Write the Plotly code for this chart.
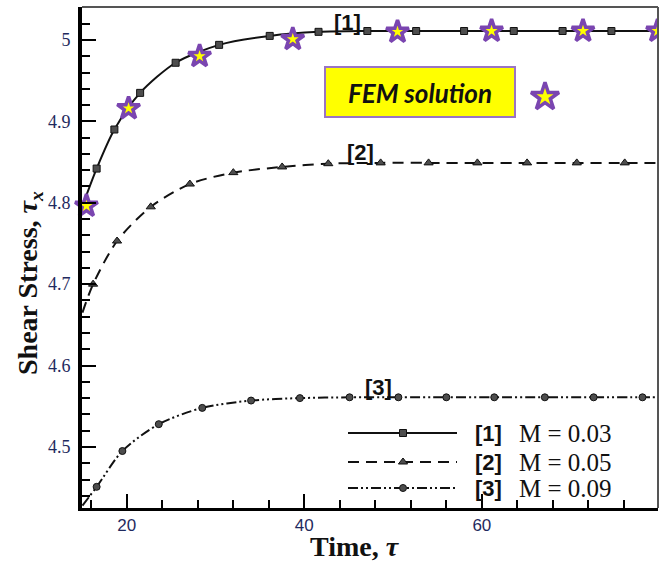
import plotly.graph_objects as go

# ---- data -------------------------------------------------------------
# [1] M = 0.03 (squares)
t_1 = [15.0, 16.6, 18.6, 21.5, 25.5, 30.4, 36.1, 41.6, 47.1, 52.6, 58.0, 63.6, 69.1, 74.6]
tau_1 = [4.796, 4.842, 4.890, 4.935, 4.972, 4.994, 5.005, 5.010, 5.011, 5.011, 5.011, 5.011, 5.011, 5.011]
t_1_end, tau_1_end = 79.85, 5.011

# [2] M = 0.05 (triangles)
t_2 = [16.2, 18.9, 22.7, 27.1, 32.0, 37.5, 42.7, 48.6, 54.0, 59.5, 65.1, 70.7, 76.1]
tau_2 = [4.700, 4.753, 4.795, 4.823, 4.837, 4.844, 4.848, 4.849, 4.849, 4.849, 4.849, 4.849, 4.849]
t_2_start, tau_2_start = 15.0, 4.665
t_2_end, tau_2_end = 79.85, 4.849

# [3] M = 0.09 (circles)
t_3 = [16.6, 19.5, 23.6, 28.5, 34.0, 39.5, 45.1, 50.6, 56.0, 61.4, 67.1, 72.6, 78.1]
tau_3 = [4.451, 4.495, 4.528, 4.548, 4.557, 4.560, 4.561, 4.561, 4.561, 4.561, 4.561, 4.561, 4.561]
t_3_start, tau_3_start = 15.0, 4.428
t_3_end, tau_3_end = 79.85, 4.561

# FEM solution
t_fem = [15.45, 20.2, 28.2, 38.7, 50.5, 61.1, 71.4, 79.8]
tau_fem = [4.796, 4.916, 4.980, 5.001, 5.010, 5.011, 5.011, 5.011]

curve_labels = ["[1]", "[2]", "[3]"]
m_values = ["M = 0.03", "M = 0.05", "M = 0.09"]

# ---- styles -----------------------------------------------------------
INK = "#111111"
MARK_FILL = "#4d4d4d"
TICK_COLOR = "#1f2a5e"
STAR_FILL = "#ffff00"
STAR_EDGE = "#7a45b0"
DASH_2 = "11px,7px"
DASH_3 = "10px,3px,2px,3px,2px,3px"

fig = go.Figure()

# curves
fig.add_trace(go.Scatter(
    x=t_1 + [t_1_end], y=tau_1 + [tau_1_end], mode="lines",
    line=dict(color=INK, width=2, shape="spline", smoothing=0.8),
    showlegend=False, hoverinfo="skip"))
fig.add_trace(go.Scatter(
    x=t_1, y=tau_1, mode="markers",
    marker=dict(symbol="square", size=7, color=MARK_FILL, line=dict(color=INK, width=1)),
    showlegend=False))

fig.add_trace(go.Scatter(
    x=[t_2_start] + t_2 + [t_2_end], y=[tau_2_start] + tau_2 + [tau_2_end], mode="lines",
    line=dict(color=INK, width=2, dash=DASH_2, shape="spline", smoothing=0.8),
    showlegend=False, hoverinfo="skip"))
fig.add_trace(go.Scatter(
    x=t_2, y=tau_2, mode="markers",
    marker=dict(symbol="triangle-up", size=8, color=MARK_FILL, line=dict(color=INK, width=1)),
    showlegend=False))

fig.add_trace(go.Scatter(
    x=[t_3_start] + t_3 + [t_3_end], y=[tau_3_start] + tau_3 + [tau_3_end], mode="lines",
    line=dict(color=INK, width=2, dash=DASH_3, shape="spline", smoothing=0.8),
    showlegend=False, hoverinfo="skip"))
fig.add_trace(go.Scatter(
    x=t_3, y=tau_3, mode="markers",
    marker=dict(symbol="circle", size=7, color=MARK_FILL, line=dict(color=INK, width=1)),
    showlegend=False))

# FEM points
fig.add_trace(go.Scatter(
    x=t_fem, y=tau_fem, mode="markers", cliponaxis=False,
    marker=dict(symbol="star", size=17, color=STAR_FILL, line=dict(color=STAR_EDGE, width=3.5)),
    showlegend=False))

# ---- key (drawn on a pixel-scaled overlay axis) -----------------------
PX_L, PX_R, PX_B, PX_T = 82, 658, 508, 7
key_rows = [433, 462, 488]
key_styles = [
    (None, "square", 7),
    (DASH_2, "triangle-up", 8),
    (DASH_3, "circle", 7),
]
for row, (dash, sym, size) in zip(key_rows, key_styles):
    fig.add_trace(go.Scatter(
        x=[348, 457], y=[row, row], xaxis="x2", yaxis="y2", mode="lines",
        line=dict(color=INK, width=2, dash=dash), showlegend=False, hoverinfo="skip"))
    fig.add_trace(go.Scatter(
        x=[403], y=[row], xaxis="x2", yaxis="y2", mode="markers",
        marker=dict(symbol=sym, size=size, color=MARK_FILL, line=dict(color=INK, width=1)),
        showlegend=False, hoverinfo="skip"))

fig.add_trace(go.Scatter(
    x=[545], y=[97], xaxis="x2", yaxis="y2", mode="markers",
    marker=dict(symbol="star", size=21, color=STAR_FILL, line=dict(color=STAR_EDGE, width=3.5)),
    showlegend=False, hoverinfo="skip"))

annotations = []
for row, lab, mv in zip(key_rows, curve_labels, m_values):
    annotations.append(dict(x=488, y=row, xref="x2", yref="y2", text=f"<b>{lab}</b>",
                            showarrow=False, font=dict(family="Liberation Sans", size=22, color=INK)))
    annotations.append(dict(x=517, y=row, xref="x2", yref="y2", text=mv, xanchor="left",
                            showarrow=False, font=dict(family="Liberation Serif", size=25, color=INK)))

# curve tags
for (px, py), lab in zip([(347, 22), (360, 152), (378, 387)], curve_labels):
    annotations.append(dict(x=px, y=py, xref="x2", yref="y2", text=f"<b>{lab}</b>",
                            showarrow=False, font=dict(family="Liberation Sans", size=22, color=INK)))

# FEM box text
annotations.append(dict(x=420, y=93, xref="x2", yref="y2", text="<b><i>FEM solution</i></b>",
                        showarrow=False, font=dict(family="Lato", size=26, color=INK)))


def paper_x(px):
    return (px - PX_L) / (PX_R - PX_L)


def paper_y(py):
    return (PX_B - py) / (PX_B - PX_T)


# axis titles
annotations.append(dict(x=paper_x(355), y=paper_y(546), xref="paper", yref="paper",
                        xanchor="center", yanchor="middle",
                        text="<b>Time, <i>τ</i></b>", showarrow=False,
                        font=dict(family="Liberation Serif", size=28, color=INK)))
annotations.append(dict(x=paper_x(29), y=paper_y(283), xref="paper", yref="paper",
                        xanchor="center", yanchor="middle",
                        text="<b>Shear Stress, <i>τ</i><sub><i>x</i></sub></b>", textangle=-90,
                        showarrow=False, font=dict(family="Liberation Serif", size=28, color=INK)))

shapes = [
    # FEM legend box
    dict(type="rect", xref="x2", yref="y2", x0=325, x1=515, y0=67, y1=117,
         fillcolor="#ffff00", line=dict(color="#9a74c4", width=2), layer="below"),
    # thin frame on top and right
    dict(type="line", xref="paper", yref="paper", x0=0, x1=1, y0=1, y1=1,
         line=dict(color="#555555", width=2)),
    dict(type="line", xref="paper", yref="paper", x0=1, x1=1, y0=0, y1=1,
         line=dict(color="#555555", width=2)),
]

fig.update_layout(
    width=659, height=565,
    margin=dict(l=PX_L, r=659 - PX_R, t=PX_T, b=565 - PX_B),
    paper_bgcolor="white", plot_bgcolor="white",
    showlegend=False,
    xaxis=dict(
        range=[14.95, 79.85], showgrid=False, zeroline=False,
        showline=True, linecolor="black", linewidth=3,
        ticks="inside", ticklen=14, tickwidth=2, tickcolor="black",
        tick0=0, dtick=20,
        minor=dict(ticks="inside", ticklen=8, tickwidth=1.5, tickcolor="black", dtick=4, tick0=0),
        tickfont=dict(family="Liberation Sans", size=17, color=TICK_COLOR),
    ),
    yaxis=dict(
        range=[4.425, 5.0405], showgrid=False, zeroline=False,
        showline=True, linecolor="black", linewidth=4,
        ticks="inside", ticklen=14, tickwidth=2, tickcolor="black",
        tick0=4.5, dtick=0.1,
        minor=dict(ticks="inside", ticklen=8, tickwidth=1.5, tickcolor="black", dtick=0.02, tick0=4.5),
        tickfont=dict(family="Liberation Serif", size=18, color=TICK_COLOR),
        ticklabelstandoff=4,
    ),
    xaxis2=dict(range=[PX_L, PX_R], overlaying="x", visible=False, fixedrange=True),
    yaxis2=dict(range=[PX_B, PX_T], overlaying="y", visible=False, fixedrange=True),
    annotations=annotations,
    shapes=shapes,
)

fig.write_html("out.html")
